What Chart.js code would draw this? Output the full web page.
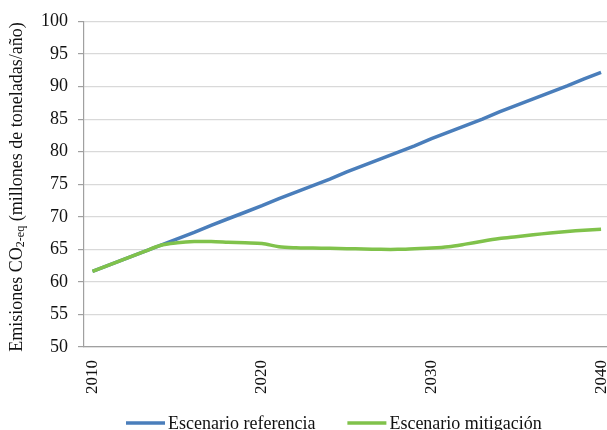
<!DOCTYPE html>
<html>
<head>
<meta charset="utf-8">
<script src="https://cdn.jsdelivr.net/npm/chart.js@4.4.1/dist/chart.umd.min.js"></script>
<style>
html,body{margin:0;padding:0;background:#fff;}
#wrap{width:607px;height:430px;position:relative;}
</style>
</head>
<body>
<div id="wrap"><canvas id="c" width="607" height="430"></canvas></div>
<script>
const years = [2010,2011,2012,2013,2014,2015,2016,2017,2018,2019,2020,2021,2022,2023,2024,2025,2026,2027,2028,2029,2030,2031,2032,2033,2034,2035,2036,2037,2038,2039,2040];
const referencia = [61.6,62.6,63.6,64.6,65.6,66.6,67.6,68.7,69.7,70.7,71.7,72.8,73.8,74.8,75.8,76.9,77.9,78.9,79.9,80.9,82.0,83.0,84.0,85.0,86.1,87.1,88.1,89.1,90.1,91.2,92.2];
const mitigacion = [61.6,62.6,63.6,64.6,65.6,66.0,66.2,66.2,66.1,66.0,65.9,65.4,65.25,65.2,65.15,65.1,65.05,65.0,65.0,65.1,65.2,65.4,65.8,66.25,66.65,66.95,67.25,67.5,67.75,67.95,68.1];
const xTickValues = [2010,2020,2030,2040];
const yTickValues = [50,55,60,65,70,75,80,85,90,95,100];
const seriesNames = ['Escenario referencia','Escenario mitigación'];
const yTitleParts = ['Emisiones CO','2-eq',' (millones de toneladas/año)'];

const FONT = '"Liberation Serif", "Times New Roman", serif';
const BLUE = '#4a7ebb';
const GREEN = '#80c24b';

const toPts = arr => years.map((y,i)=>({x:y, y:arr[i]}));

const yTitlePlugin = {
  id:'yTitle',
  afterDraw(chart){
    const ctx = chart.ctx;
    ctx.save();
    ctx.translate(17, 187);
    ctx.rotate(-Math.PI/2);
    ctx.fillStyle = '#111';
    ctx.textBaseline = 'middle';
    ctx.textAlign = 'left';
    const fonts = ['18px '+FONT, '12px '+FONT, '18px '+FONT];
    const offs = [0, 4, 0];
    let total = 0;
    const widths = yTitleParts.map((t,i)=>{ctx.font = fonts[i]; const w = ctx.measureText(t).width; total += w; return w;});
    let x = -total/2;
    yTitleParts.forEach((t,i)=>{ctx.font = fonts[i]; ctx.fillText(t, x, offs[i]); x += widths[i];});
    ctx.restore();
  }
};

const legendPlugin = {
  id:'customLegend',
  afterDraw(chart){
    const ctx = chart.ctx;
    ctx.save();
    ctx.font = '18px '+FONT;
    ctx.textBaseline = 'alphabetic';
    ctx.textAlign = 'left';
    let x = 126;
    const y = 423;
    chart.data.datasets.forEach(ds=>{
      ctx.strokeStyle = ds.borderColor;
      ctx.lineWidth = 3.5;
      ctx.beginPath();
      ctx.moveTo(x, y);
      ctx.lineTo(x+39, y);
      ctx.stroke();
      ctx.fillStyle = '#111';
      ctx.fillText(ds.label, x+42, 429);
      x += 42 + ctx.measureText(ds.label).width + 32;
    });
    ctx.restore();
  }
};

new Chart(document.getElementById('c'), {
  type:'line',
  data:{
    datasets:[
      {label:seriesNames[0], data:toPts(referencia), borderColor:BLUE, backgroundColor:BLUE, borderWidth:3.5, pointRadius:0, tension:0, order:1},
      {label:seriesNames[1], data:toPts(mitigacion), borderColor:GREEN, backgroundColor:GREEN, borderWidth:3.5, pointRadius:0, tension:0.3, order:0}
    ]
  },
  options:{
    responsive:false,
    animation:false,
    layout:{padding:{top:21.5, right:0, bottom:0, left:0}},
    plugins:{legend:{display:false}, title:{display:false}, tooltip:{enabled:false}},
    scales:{
      x:{
        type:'linear',
        min:2009.5,
        max:2040.35,
        afterBuildTicks(s){ s.ticks = xTickValues.map(v=>({value:v})); },
        afterFit(s){ s.height = 83; s.paddingLeft = 0; s.paddingRight = 0; },
        grid:{display:false, drawTicks:false},
        border:{display:true, color:'#a0a0a0', width:1.2},
        ticks:{
          padding:13,
          minRotation:90, maxRotation:90,
          autoSkip:false,
          color:'#111',
          font:{family:FONT, size:17},
          callback:v=>String(v)
        }
      },
      y:{
        min:50, max:100,
        afterBuildTicks(s){ s.ticks = yTickValues.map(v=>({value:v})); },
        afterFit(s){ s.width = 84; s.paddingTop = 0; s.paddingBottom = 0; },
        grid:{color:'#d9d9d9', lineWidth:1.2, tickLength:6, drawTicks:true, tickColor:'#a0a0a0'},
        border:{display:true, color:'#a0a0a0', width:1.2},
        ticks:{
          padding:10,
          color:'#111',
          font:{family:FONT, size:18},
          callback:v=>String(v)
        }
      }
    }
  },
  plugins:[yTitlePlugin, legendPlugin]
});
</script>
</body>
</html>
